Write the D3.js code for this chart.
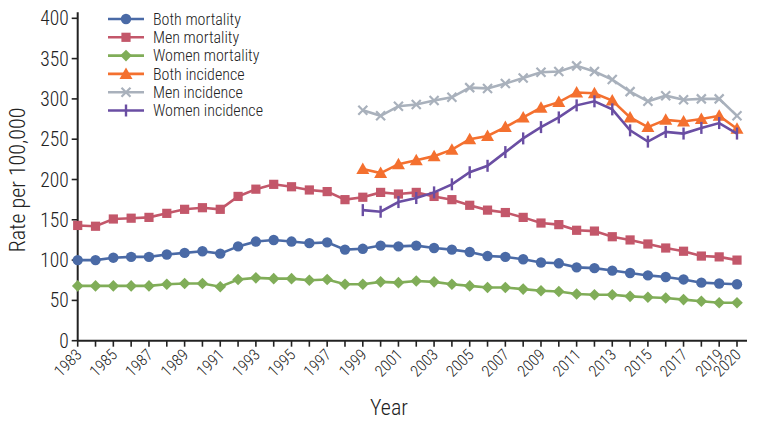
<!DOCTYPE html>
<html><head><meta charset="utf-8">
<script src="https://cdn.jsdelivr.net/npm/d3@7"></script>
<style>
body{margin:0;background:#fff;}
svg text{font-family:"Liberation Sans Narrow","Roboto Condensed","DejaVu Sans Condensed",sans-serif;fill:#222;font-weight:300;}
</style></head><body>
<svg id="c" width="758" height="423"></svg>
<script>
const years = d3.range(1983, 2021);
const incYears = d3.range(1999, 2021);
const bothMort = [100,100,103,104,104,107,109,111,108,117,123,125,123,121,122,113,114,118,117,118,115,113,110,105,104,101,97,96,91,90,87,84,81,79,76,72,71,70];
const menMort = [143,142,151,152,153,158,163,165,163,179,188,194,191,187,185,175,178,184,182,184,179,175,168,162,159,153,146,144,137,136,129,125,120,115,111,105,104,100];
const womenMort = [68,68,68,68,68,70,71,71,67,76,78,77,77,75,76,70,70,73,72,74,73,70,68,66,66,64,62,61,58,57,57,55,54,53,51,49,47,47];
const bothInc = [213,208,219,224,229,237,250,254,265,277,289,296,308,307,298,277,265,274,272,275,279,263];
const menInc = [286,279,291,293,298,302,314,313,319,326,333,334,341,334,324,309,297,304,299,300,300,279];
const womenInc = [162,160,172,177,184,194,209,217,234,251,265,277,292,297,287,261,247,259,257,264,270,257];
const xTickLabels = [1983,1985,1987,1989,1991,1993,1995,1997,1999,2001,2003,2005,2007,2009,2011,2013,2015,2017,2019,2020];
const yTicks = [0,50,100,150,200,250,300,350,400];
const seriesNames = ["Both mortality","Men mortality","Women mortality","Both incidence","Men incidence","Women incidence"];
const seriesColors = ["#4a6aa6","#c3576a","#80ad58","#f4702f","#a9b1bc","#6a4ea3"];
const seriesSymbols = ["circle","square","diamond","triangle","cross","bar"];

const series = [
  {x: years, y: bothMort}, {x: years, y: menMort}, {x: years, y: womenMort},
  {x: incYears, y: bothInc}, {x: incYears, y: menInc}, {x: incYears, y: womenInc}
].map((s,i)=>({name:seriesNames[i], color:seriesColors[i], sym:seriesSymbols[i], pts:s.x.map((yr,j)=>[yr,s.y[j]])}));

const svg = d3.select("#c");
const x = d3.scaleLinear().domain([1983,2020]).range([77.7,737]);
const y = d3.scaleLinear().domain([0,400]).range([340.7,18.3]);

function drawSym(g, sym, color){
  if(sym==="circle") g.append("circle").attr("r",5.2).attr("fill",color);
  else if(sym==="square") g.append("rect").attr("x",-4.6).attr("y",-4.6).attr("width",9.2).attr("height",9.2).attr("fill",color);
  else if(sym==="diamond") g.append("path").attr("d","M0,-5.8L5.8,0L0,5.8L-5.8,0Z").attr("fill",color);
  else if(sym==="triangle") g.append("path").attr("d","M0,-6.5L6.5,5L-6.5,5Z").attr("fill",color);
  else if(sym==="cross") g.append("path").attr("d","M-4.5,-4.5L4.5,4.5M-4.5,4.5L4.5,-4.5").attr("stroke",color).attr("stroke-width",2.2);
  else if(sym==="bar") g.append("path").attr("d","M0,-6L0,6").attr("stroke",color).attr("stroke-width",2.4);
}

// axes
const ax = svg.append("g");
ax.append("line").attr("x1",x(1983)).attr("x2",747).attr("y1",y(0)).attr("y2",y(0)).attr("stroke","#222").attr("stroke-width",2);
ax.append("line").attr("x1",x(1983)).attr("x2",x(1983)).attr("y1",y(0)).attr("y2",y(400)-6).attr("stroke","#222").attr("stroke-width",2);
years.forEach(yr=>{
  ax.append("line").attr("x1",x(yr)).attr("x2",x(yr)).attr("y1",y(0)).attr("y2",y(0)+6).attr("stroke","#222").attr("stroke-width",1.6);
});
yTicks.forEach(v=>{
  ax.append("line").attr("x1",x(1983)-6).attr("x2",x(1983)).attr("y1",y(v)).attr("y2",y(v)).attr("stroke","#222").attr("stroke-width",1.6);
  ax.append("text").attr("x",x(1983)-9).attr("y",y(v)).attr("dy","0.36em").attr("text-anchor","end").attr("font-size",19.5).text(v);
});
xTickLabels.forEach(yr=>{
  ax.append("text").attr("transform",`translate(${x(yr)+5},${y(0)+15}) rotate(-45)`).attr("text-anchor","end").attr("font-size",16).text(yr);
});
svg.append("text").attr("x",389).attr("y",415).attr("text-anchor","middle").attr("font-size",22).text("Year");
svg.append("text").attr("transform","translate(25,180) rotate(-90)").attr("text-anchor","middle").attr("font-size",22).text("Rate per 100,000");

// lines
const line = d3.line().x(d=>x(d[0])).y(d=>y(d[1]));
series.forEach(s=>{
  const g = svg.append("g");
  g.append("path").attr("d",line(s.pts)).attr("fill","none").attr("stroke",s.color).attr("stroke-width",2.6);
  s.pts.forEach(p=>{ drawSym(g.append("g").attr("transform",`translate(${x(p[0])},${y(p[1])})`), s.sym, s.color); });
});

// legend
const lg = svg.append("g");
series.forEach((s,i)=>{
  const yy = 19 + i*18.3;
  lg.append("line").attr("x1",108).attr("x2",144).attr("y1",yy).attr("y2",yy).attr("stroke",s.color).attr("stroke-width",2.6);
  drawSym(lg.append("g").attr("transform",`translate(126,${yy})`), s.sym, s.color);
  lg.append("text").attr("x",153).attr("y",yy).attr("dy","0.36em").attr("font-size",16).text(s.name);
});
</script></body></html>
